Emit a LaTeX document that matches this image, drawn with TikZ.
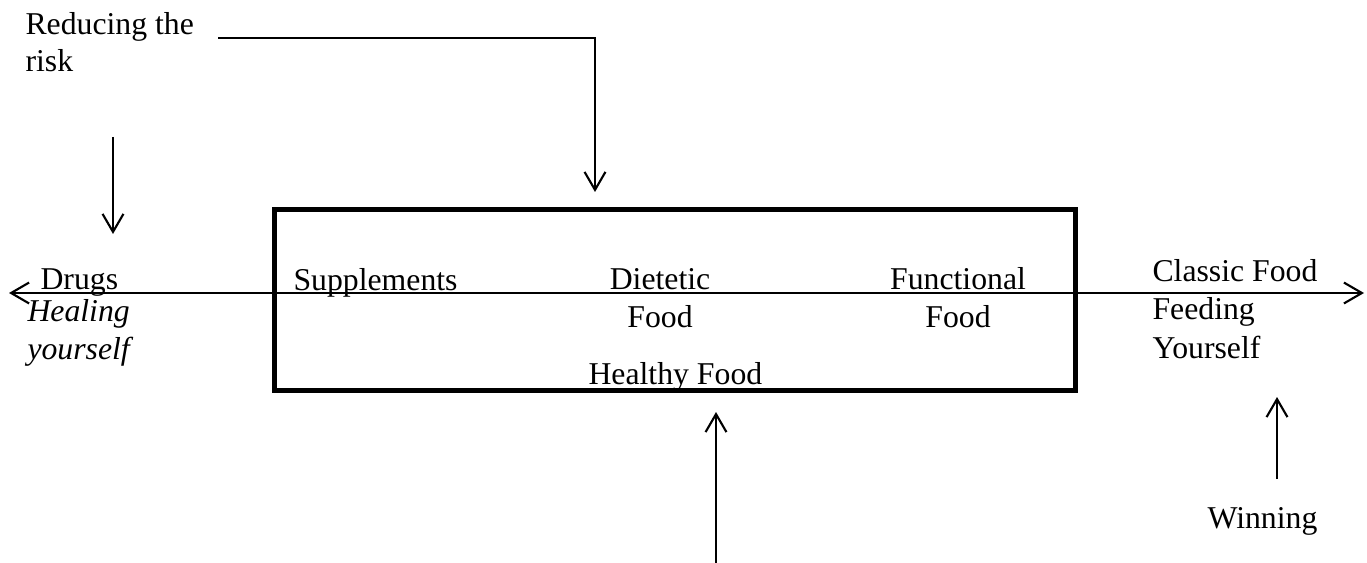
\documentclass[tikz,border=0pt]{standalone}
\usepackage{fontspec}
\setmainfont{Liberation Serif}
\usetikzlibrary{arrows.meta}
\begin{document}
\begin{tikzpicture}[x=0.378pt,y=-0.378pt,>={Straight Barb[length=6.8pt,width=7.9pt]},
  txt/.style={inner sep=0pt,anchor=base west,align=left,font=\fontsize{12}{14}\selectfont},
  ctxt/.style={txt,anchor=base,align=center},
  arr/.style={line width=0.8pt,->}]
  \useasboundingbox (0,0) rectangle (1367,563);
  % the healthy food frame
  \draw[line width=1.9pt] (274.5,209.5) rectangle (1075,390.5);
  % texts (multi-line nodes sit on their last baseline)
  \node[txt] (risk) at (25,72) {Reducing the\\risk};
  \node[txt] (drugs) at (40,289) {Drugs};
  \node[txt,font=\fontsize{12}{14}\selectfont\itshape] (heal) at (27,359) {Healing\\yourself};
  \node[txt] (supp) at (293,290) {Supplements};
  \node[ctxt] (diet) at (660,327) {Dietetic\\Food};
  \node[ctxt] (func) at (958,327) {Functional\\Food};
  \node[txt] (healthy) at (588,384) {Healthy Food};
  \node[txt,font=\fontsize{12}{14.4}\selectfont] (classic) at (1152,358) {Classic Food\\Feeding\\Yourself};
  \node[txt] (win) at (1207,528) {Winning};
  % arrow ends
  \coordinate (axL) at (9,293);
  \coordinate (axR) at (1364,293);
  \coordinate (riskA) at (218,38);
  \coordinate (riskB) at (595,192);
  \coordinate (drugA) at (113,137);
  \coordinate (drugB) at (113,234);
  \coordinate (healA) at (716,563);
  \coordinate (healB) at (716,412);
  \coordinate (winA) at (1277,479);
  \coordinate (winB) at (1277,397);
  % arrows
  \draw[arr,<->] (axL) -- (axR);
  \draw[arr] (riskA) -| (riskB);
  \draw[arr] (drugA) -- (drugB);
  \draw[arr] (healA) -- (healB);
  \draw[arr] (winA) -- (winB);
\end{tikzpicture}
\end{document}
